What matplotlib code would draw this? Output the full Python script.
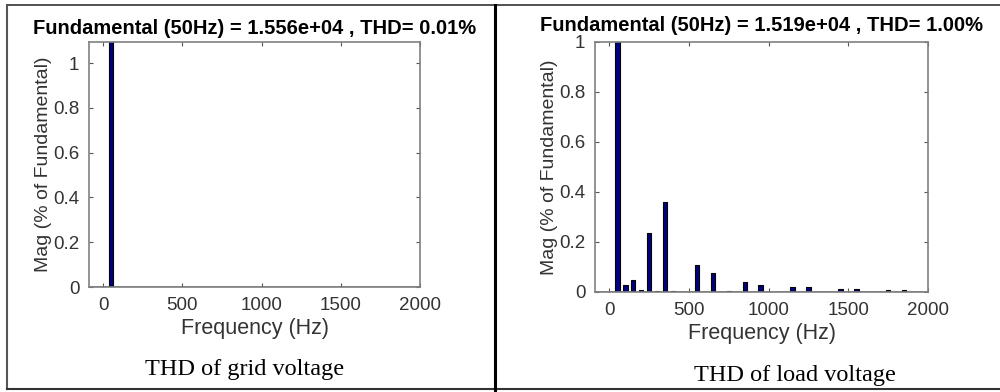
import matplotlib.pyplot as plt
from matplotlib.lines import Line2D

plt.rcParams['font.family'] = ['Liberation Sans', 'DejaVu Sans']

# harmonic spectrum, % of fundamental (normalised)
freq_grid = [50]
mag_grid = [1.2]

freq_load = [50, 100, 150, 200, 250, 300, 350, 400, 550, 650, 750, 850, 950,
             1150, 1250, 1450, 1550, 1750, 1850]
mag_load = [1.0, 0.028, 0.047, 0.009, 0.237, 0.004, 0.359, 0.004, 0.107, 0.077,
            0.004, 0.041, 0.029, 0.019, 0.019, 0.011, 0.011, 0.008, 0.008]

titles = ["Fundamental (50Hz) = 1.556e+04 , THD= 0.01%",
          "Fundamental (50Hz) = 1.519e+04 , THD= 1.00%"]
captions = ["THD of grid voltage", "THD of load voltage"]

W, H = 1000, 392
fig = plt.figure(figsize=(W / 100, H / 100), dpi=100)


def px_axes(x0, y0, x1, y1):
    return fig.add_axes([x0 / W, 1 - y1 / H, (x1 - x0) / W, (y1 - y0) / H])


def draw_fft(ax, f, m, ytop, title, tpad):
    ax.bar(f, m, width=28, color='#000080', edgecolor='black', linewidth=0.8, zorder=2)
    ax.axhline(0, color='#808080', lw=1.2, zorder=1)
    ax.set_xlim(-90, 2000)
    ax.set_ylim(0, ytop)
    ax.set_xticks([0, 500, 1000, 1500, 2000])
    ax.set_yticks([0, 0.2, 0.4, 0.6, 0.8, 1])
    ax.set_yticklabels(['0', '0.2', '0.4', '0.6', '0.8', '1'])
    ax.tick_params(direction='in', top=True, right=True, length=3, width=0.8,
                   color='#555555', labelcolor='#333333', labelsize=13.5, pad=7)
    for s in ax.spines.values():
        s.set_color('#808080')
        s.set_linewidth(1.2)
    ax.set_xlabel('Frequency (Hz)', fontsize=15.5, color='#333333', labelpad=3)
    ax.set_ylabel('Mag (% of Fundamental)', fontsize=14, color='#333333', labelpad=1)
    ax.set_title(title, fontsize=14.5, fontweight='bold', pad=tpad)


ax1 = px_axes(89, 42, 420, 287)
draw_fft(ax1, freq_grid, mag_grid, 1.094, titles[0], 6)

ax2 = px_axes(595, 42, 928, 292)
draw_fft(ax2, freq_load, mag_load, 1.0, titles[1], 8)

fig.text(245 / W, 1 - 370 / H, captions[0], family='Liberation Serif', fontsize=17.5,
         ha='center', va='center')
fig.text(795 / W, 1 - 375 / H, captions[1], family='Liberation Serif', fontsize=17.5,
         ha='center', va='center')

# panel frame lines
def fig_line(x0, y0, x1, y1, lw, c='black'):
    fig.add_artist(Line2D([x0 / W, x1 / W], [1 - y0 / H, 1 - y1 / H], color=c, lw=lw))

fig_line(7, 5, 1000, 5, 1.2, '#333333')
fig_line(7, 5, 7, 389, 1.5, '#555555')
fig_line(7, 389, 1000, 389, 1.5, '#333333')
fig_line(495, 5, 495, 392, 2.2)

fig.savefig('out.png', dpi=100)
